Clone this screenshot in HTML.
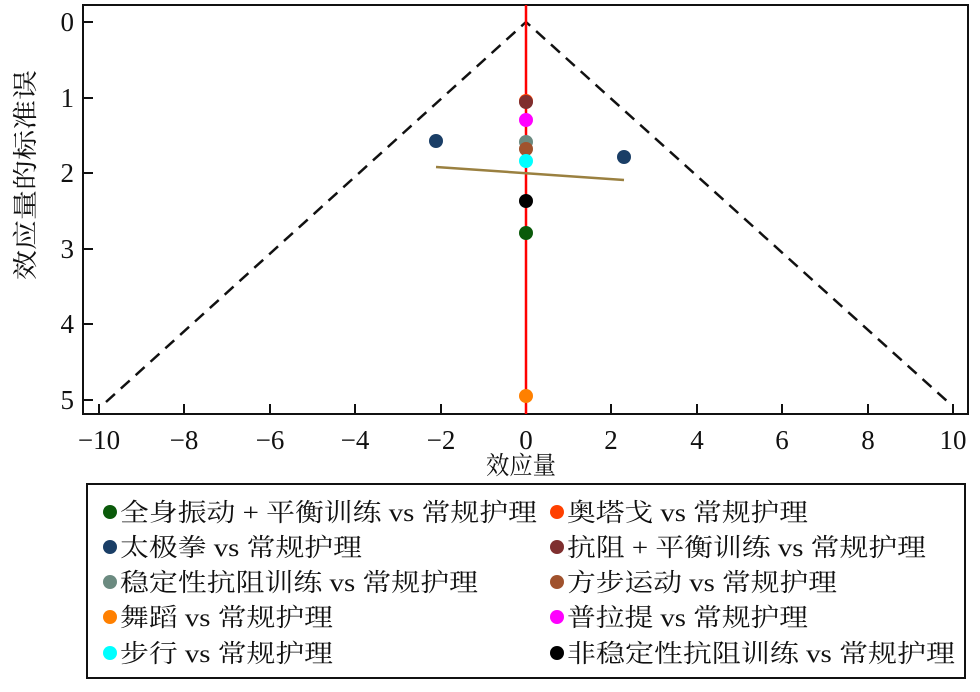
<!DOCTYPE html>
<html><head><meta charset="utf-8"><style>
body{margin:0;background:#fff;width:980px;height:687px;overflow:hidden}
svg text{font-family:"Liberation Serif","Noto Serif CJK SC",serif;fill:#111}
</style></head><body>
<svg width="980" height="687" viewBox="0 0 980 687" xmlns="http://www.w3.org/2000/svg">
<rect x="83" y="5" width="885" height="409" fill="none" stroke="#111" stroke-width="2"/>
<g stroke="#111" stroke-width="2">
<line x1="99" y1="414" x2="99" y2="404"/><line x1="184" y1="414" x2="184" y2="404"/><line x1="270" y1="414" x2="270" y2="404"/><line x1="355" y1="414" x2="355" y2="404"/><line x1="441" y1="414" x2="441" y2="404"/><line x1="526" y1="414" x2="526" y2="404"/><line x1="611" y1="414" x2="611" y2="404"/><line x1="697" y1="414" x2="697" y2="404"/><line x1="782" y1="414" x2="782" y2="404"/><line x1="868" y1="414" x2="868" y2="404"/><line x1="953" y1="414" x2="953" y2="404"/>
<line x1="83" y1="22" x2="93" y2="22"/><line x1="83" y1="98" x2="93" y2="98"/><line x1="83" y1="173" x2="93" y2="173"/><line x1="83" y1="249" x2="93" y2="249"/><line x1="83" y1="324" x2="93" y2="324"/><line x1="83" y1="400" x2="93" y2="400"/>
</g>
<g font-size="27" text-anchor="middle">
<text x="99" y="449">−10</text><text x="184" y="449">−8</text><text x="270" y="449">−6</text><text x="355" y="449">−4</text><text x="441" y="449">−2</text><text x="526" y="449">0</text><text x="611" y="449">2</text><text x="697" y="449">4</text><text x="782" y="449">6</text><text x="868" y="449">8</text><text x="953" y="449">10</text>
</g>
<g font-size="27" text-anchor="end">
<text x="74" y="31">0</text><text x="74" y="107">1</text><text x="74" y="182">2</text><text x="74" y="258">3</text><text x="74" y="333">4</text><text x="74" y="409">5</text>
</g>
<text x="486" y="474" font-size="25" textLength="70" lengthAdjust="spacingAndGlyphs">效应量</text>
<text transform="translate(34,280) rotate(-90)" font-size="25" textLength="210" lengthAdjust="spacingAndGlyphs">效应量的标准误</text>
<polyline points="106,402 526,22 948,402" fill="none" stroke="#111" stroke-width="2.5" stroke-dasharray="12,8"/>
<line x1="526" y1="5" x2="526" y2="414" stroke="#f00" stroke-width="2.5"/>
<line x1="436" y1="167" x2="624" y2="180" stroke="#9a8040" stroke-width="2.5"/>
<g>
<circle cx="436" cy="141" r="7" fill="#1a3e66"/>
<circle cx="624" cy="157" r="7" fill="#1a3e66"/>
<circle cx="526" cy="101" r="7" fill="#ff4000"/>
<circle cx="526" cy="102" r="7" fill="#7f2f2f"/>
<circle cx="526" cy="120" r="7" fill="#ff00ff"/>
<circle cx="526" cy="142" r="7" fill="#6b8a80"/>
<circle cx="526" cy="149" r="7" fill="#a0522d"/>
<circle cx="526" cy="161" r="7" fill="#00ffff"/>
<circle cx="526" cy="201" r="7" fill="#000"/>
<circle cx="526" cy="233" r="7" fill="#0a5a0a"/>
<circle cx="526" cy="396" r="7" fill="#ff8000"/>
</g>
<rect x="87" y="484" width="878" height="194" fill="none" stroke="#111" stroke-width="2"/>
<g font-size="25">
<circle cx="110" cy="512" r="7" fill="#0a5a0a"/><text x="120" y="521" textLength="417" lengthAdjust="spacingAndGlyphs">全身振动 + 平衡训练 vs 常规护理</text>
<circle cx="110" cy="547" r="7" fill="#1a3e66"/><text x="120" y="556" textLength="242" lengthAdjust="spacingAndGlyphs">太极拳 vs 常规护理</text>
<circle cx="110" cy="582" r="7" fill="#6b8a80"/><text x="120" y="591" textLength="358" lengthAdjust="spacingAndGlyphs">稳定性抗阻训练 vs 常规护理</text>
<circle cx="110" cy="617" r="7" fill="#ff8000"/><text x="120" y="626" textLength="213" lengthAdjust="spacingAndGlyphs">舞蹈 vs 常规护理</text>
<circle cx="110" cy="653" r="7" fill="#00ffff"/><text x="120" y="662" textLength="213" lengthAdjust="spacingAndGlyphs">步行 vs 常规护理</text>
<circle cx="557" cy="512" r="7" fill="#ff4000"/><text x="567" y="521" textLength="241" lengthAdjust="spacingAndGlyphs">奥塔戈 vs 常规护理</text>
<circle cx="557" cy="547" r="7" fill="#7f2f2f"/><text x="567" y="556" textLength="359" lengthAdjust="spacingAndGlyphs">抗阻 + 平衡训练 vs 常规护理</text>
<circle cx="557" cy="582" r="7" fill="#a0522d"/><text x="567" y="591" textLength="270" lengthAdjust="spacingAndGlyphs">方步运动 vs 常规护理</text>
<circle cx="557" cy="617" r="7" fill="#ff00ff"/><text x="567" y="626" textLength="241" lengthAdjust="spacingAndGlyphs">普拉提 vs 常规护理</text>
<circle cx="557" cy="653" r="7" fill="#000"/><text x="567" y="662" textLength="388" lengthAdjust="spacingAndGlyphs">非稳定性抗阻训练 vs 常规护理</text>
</g>
</svg>
</body></html>
